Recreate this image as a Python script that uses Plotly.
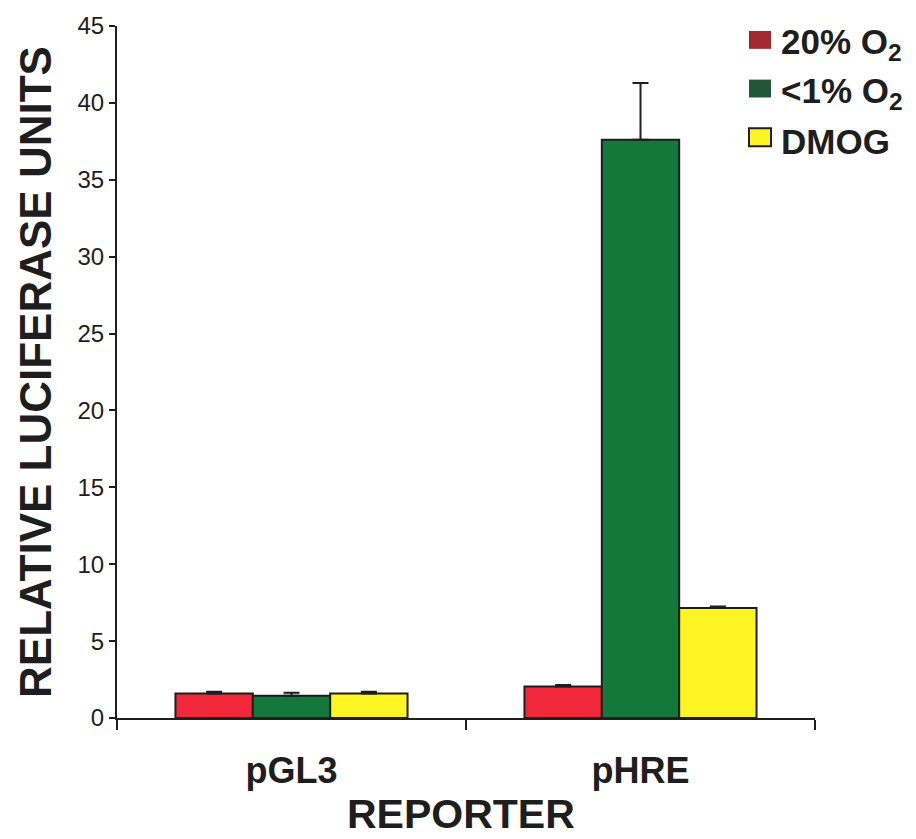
import plotly.graph_objects as go

# Luciferase reporter assay: mean relative units with upper error bars
reporters = ["pGL3", "pHRE"]
conditions = ["20% O<sub>2</sub>", "<1% O<sub>2</sub>", "DMOG"]
values = {
    "20% O<sub>2</sub>": [1.6, 2.05],
    "<1% O<sub>2</sub>": [1.45, 37.6],
    "DMOG": [1.6, 7.15],
}
errors = {
    "20% O<sub>2</sub>": [0.1, 0.1],
    "<1% O<sub>2</sub>": [0.2, 3.7],
    "DMOG": [0.1, 0.1],
}
bar_colors = ["#F0283A", "#13783A", "#FFF524"]
key_colors = ["#A3282F", "#1F5634", "#FFF524"]
y_ticks = [0, 5, 10, 15, 20, 25, 30, 35, 40, 45]

FONT = "Liberation Sans, Arial, Helvetica, sans-serif"
INK = "#1e1e1e"

fig = go.Figure()
for cond, col in zip(conditions, bar_colors):
    fig.add_trace(go.Bar(
        x=reporters,
        y=values[cond],
        name=cond,
        showlegend=False,
        marker=dict(color=col, line=dict(color=INK, width=2)),
        error_y=dict(type="data", symmetric=False, array=errors[cond],
                     arrayminus=[0] * len(reporters),
                     color=INK, thickness=2, width=8),
    ))

# Key in the upper right corner, laid out in plot-paper coordinates
L, R, T, B = 117, 815, 21, 718
W, H = R - L, B - T


def px_x(px):
    return (px - L) / W


def px_y(py):
    return (B - py) / H


key_rows = [35, 84, 133]
for cond, col, yc in zip(conditions, key_colors, key_rows):
    outline = dict(color=INK, width=2) if cond == "DMOG" else dict(width=0)
    fig.add_shape(type="rect", xref="paper", yref="paper",
                  x0=px_x(749), x1=px_x(771), y0=px_y(yc - 9), y1=px_y(yc + 9),
                  fillcolor=col, line=outline)
    fig.add_annotation(x=px_x(779), y=px_y(yc + 4), xref="paper", yref="paper",
                       text="<b>" + cond + "</b>", showarrow=False,
                       xanchor="left", yanchor="middle",
                       font=dict(family=FONT, size=35, color=INK))

# x-axis title
fig.add_annotation(x=px_x(461), y=px_y(815), xref="paper", yref="paper",
                   text="<b>REPORTER</b>", showarrow=False,
                   xanchor="center", yanchor="middle",
                   font=dict(family=FONT, size=41, color=INK))

fig.update_layout(
    width=916, height=839,
    margin=dict(l=L, r=916 - R, t=T, b=839 - B),
    paper_bgcolor="white", plot_bgcolor="white",
    barmode="group", bargap=0.335, bargroupgap=0,
    font=dict(family=FONT, color=INK),
    showlegend=False,
)
fig.update_xaxes(
    range=[-0.5, 1.5], showline=True, linecolor=INK, linewidth=2,
    ticks="outside", tickson="boundaries", ticklen=10, tickwidth=2, tickcolor=INK,
    tickfont=dict(family=FONT, size=36, color=INK),
    tickvals=[0, 1], ticktext=["<b>pGL3</b>", "<b>pHRE</b>"],
    ticklabelstandoff=20, showgrid=False, zeroline=False,
)
fig.update_yaxes(
    range=[0, 45], tickvals=y_ticks, showline=True, linecolor=INK, linewidth=2,
    ticks="outside", ticklen=6, tickwidth=2, tickcolor=INK,
    tickfont=dict(family=FONT, size=24, color=INK),
    showgrid=False, zeroline=False,
    title=dict(text="<b>RELATIVE LUCIFERASE UNITS</b>", standoff=12,
               font=dict(family=FONT, size=44, color=INK)),
)

fig.write_html("out.html")
